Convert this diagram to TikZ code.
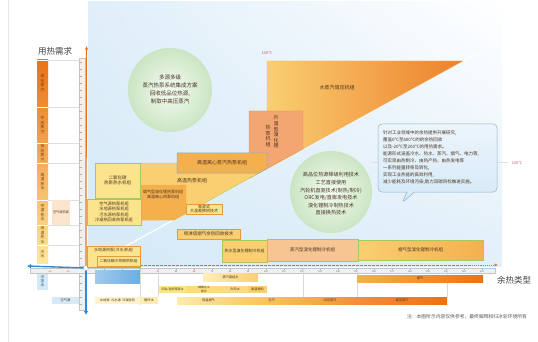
\documentclass[tikz,border=0pt]{standalone}
\usepackage{fontspec}
\newfontfamily\cjk{Noto Sans CJK SC}
\usepackage{xcolor}
\usepackage{tikz}
\usetikzlibrary{positioning,calc,shapes.callouts,arrows.meta,shadings}

\definecolor{demandorange}{HTML}{EB7214}
\definecolor{demandyellow}{HTML}{FCE89E}
\definecolor{paleblue}{HTML}{D5E9F7}
\definecolor{axisblue}{HTML}{2C8AD6}
\definecolor{unitgreen}{HTML}{A6C85E}
\definecolor{unityellow}{HTML}{FCE48C}
\definecolor{unitamber}{HTML}{F9CF72}
\definecolor{unitorange}{HTML}{F5B04E}
\definecolor{unitsalmon}{HTML}{F3A671}
\definecolor{unitpeach}{HTML}{F7C592}
\definecolor{edgeorange}{HTML}{E59A3C}
\definecolor{edgeblue}{HTML}{7FAFCB}
\definecolor{labelred}{HTML}{C8505A}
\definecolor{inkbrown}{HTML}{4A3420}
\definecolor{bubbleedge}{HTML}{8DB1CC}
\definecolor{ballin}{HTML}{F5FBF3}
\definecolor{ballout}{HTML}{CBE5C3}

\newcommand{\fs}[2]{\cjk\fontsize{#1}{#2}\selectfont}

\begin{document}
\begin{tikzpicture}[x=1pt, y=-1pt,
    every node/.style={inner sep=0pt, align=center, text=inkbrown},
    unitbox/.style={fill=#1, draw=unitgreen, line width=0.4pt, font=\fs{4.5}{5.5}},
    rowcell/.style={fill=#1, minimum height=7pt, font=\fs{3.2}{3.8}},
    demandtag/.style={font=\fs{3.8}{4.4}, text=demandorange!50!black},
    rulerbar/.style={fill=gray!12, draw=gray!45, line width=0.3pt},
    ticklabel/.style={font=\fs{2.2}{2.4}, text=gray!70!black},
    blueaxis/.style={-{Latex[length=4pt,width=4.5pt]}, line width=1.4pt, draw=axisblue},
    tempmark/.style={font=\fs{3.8}{4.4}, text=labelred}
]
\useasboundingbox (0,0) rectangle (538,342);
\fill[white] (0,0) rectangle (538,342);
\draw[gray!18] (8,0) -- (8,342);

% chart background
\shade[upper left=paleblue!75, lower left=paleblue, upper right=white, lower right=paleblue!70]
  (88,2) rectangle (502,266);
\coordinate (O) at (86,268);
\coordinate (diagEnd) at (476,54);
\draw[white, line width=1.2pt] (O) -- (diagEnd);

% demand column
\node[font=\fs{8.5}{9}, text=black!75] (demandTitle) at (55,51) {用热需求};
\shade[top color=demandorange, bottom color=demandyellow] (37,60) rectangle (48,263);
\fill[paleblue] (37,272) rectangle (48,290);
\foreach \y in {60,107,143,163,200,225,245} {
  \draw[white, line width=0.6pt] (37,\y) -- (48,\y);
  \draw[gray!25, line width=0.3pt] (48,\y) -- (79,\y);
}
\node[demandtag] (hpSteam)  at (42.5,83)  {高\\压\\蒸\\汽};
\node[demandtag] (mpSteam)  at (42.5,125) {中\\压\\蒸\\汽};
\node[demandtag] (lpSteam)  at (42.5,153) {低\\压\\蒸\\汽};
\node[demandtag] (hotWater) at (42.5,181.5) {高\\温\\热\\水};
\node[demandtag] (midWater) at (42.5,212.5) {中\\温\\热\\水};
\node[demandtag] (lowWater) at (42.5,235) {低\\温\\热\\水};
\node[demandtag] (coldWater) at (42.5,254) {冷\\水};
\node[demandtag, text=axisblue!60!black] (chillWater) at (42.5,281) {冷\\冻\\水};
\node[rowcell=unitpeach!45, minimum width=18pt, minimum height=25pt] (airTag) at (61,212.5) {空气源热泵};

% rulers and axes
\draw[rulerbar] (79,58) rectangle (85,266);
\draw[rulerbar] (79,272) rectangle (85,310);
\foreach \y in {62,69,...,262} \draw[gray!60, line width=0.3pt] (79,\y) -- (81.5,\y);
\foreach \y in {276,283,...,306} \draw[gray!60, line width=0.3pt] (79,\y) -- (81.5,\y);
\draw[rulerbar] (30,268.5) rectangle (495,273.5);
\foreach \k in {1,...,22} {
  \draw[gray!60, line width=0.3pt] ({86+18*\k},268.5) -- ++(0,1.5);
  \node[ticklabel] (hx\k) at ({86+18*\k},271.8) {\the\numexpr10*\k\relax};
}
\node[ticklabel] (hxm1) at (68,271.8) {-10};
\node[ticklabel] (hxm2) at (50,271.8) {-20};
\coordinate (yTop) at (86.5,46);
\coordinate (xDots) at (470,265);
\coordinate (xEnd) at (498,265);
\coordinate (xLeft) at (27,266);
\coordinate (yDown) at (86,315);
\draw[demandorange, line width=1pt, -{Latex[length=3.5pt,width=3.5pt]}] (O) -- (yTop);
\draw[demandorange, line width=0.9pt, dash pattern=on 3pt off 1pt] (88,265) -- (xDots);
\draw[demandorange, line width=0.9pt, densely dotted, -{Latex[length=3.5pt,width=3.5pt]}] (xDots) -- (xEnd);
\draw[blueaxis] (O) -- (xLeft);
\draw[blueaxis] (O) -- (yDown);
\node[circle, draw=gray!60, fill=white, line width=0.4pt, minimum size=5pt] (origin) at (O) {};
\node[font=\fs{8.5}{9}, text=black!75] (sourceTitle) at (514,280) {余热类型};

% upper-left: heat pumps
\shade[left color=unitamber, right color=demandorange!90, draw=edgeorange!70, line width=0.3pt]
  (267,61) -- (463,61) -- (267,168.7) -- cycle;
\node[font=\fs{5}{6}] (mvr) at (337,88) {水蒸汽增压机组};
\filldraw[fill=unitsalmon, draw=edgeorange, line width=0.4pt]
  (249,111) -- (303,111) -- (303,148.9) -- (249,178.6) -- cycle;
\node[font=\fs{5}{5.6}] (liTempCol) at (276,132) {升\\温\\型\\溴\\化\\锂};
\node[font=\fs{5}{5.6}] (liPumpCol) at (268,136) {热\\泵\\机\\组};
\filldraw[fill=unitamber, draw=unitgreen, line width=0.4pt]
  (140,163) -- (177,163) -- (177,173) -- (259,173) -- (174,220) -- (140,220) -- cycle;
\node[font=\fs{5}{6}] (hthp) at (192,181) {高温热泵机组};
\filldraw[fill=unitorange, draw=unitorange, line width=0.4pt]
  (140,185) -- (186,185) -- (186,213.2) -- (174,220) -- (140,220) -- cycle;
\node[font=\fs{4}{5}] (flueHp) at (163,194) {烟气型溴化锂热泵机组\\高温离心热泵机组};
\filldraw[fill=unitorange, draw=edgeblue, line width=0.5pt]
  (177,153) -- (267,153) -- (267,168.7) -- (259,173) -- (177,173) -- cycle;
\node[font=\fs{5}{6}] (steamHp) at (222,163) {高温离心蒸汽热泵机组};
\node[unitbox=unityellow, minimum width=45pt, minimum height=35pt] (co2Hot) at (117.5,180.5) {二氧化碳\\热泵热水机组};
\node[unitbox=unityellow, minimum width=54pt, minimum height=26pt, font=\fs{4.2}{5.4}] (srcHp) at (114,212)
  {空气源热泵机组\\水地源热泵机组\\污水源热泵机组\\冷凝热回收热泵机组};
\node[unitbox=unityellow, draw=edgeorange, minimum width=36pt, minimum height=10pt, font=\fs{4}{4.6}] (absorb) at (204,209)
  {吸收式\\大温差换热技术};

% lower-right: heat driven
\node[unitbox=unitamber, draw=edgeorange, minimum width=63pt, minimum height=10pt] (spray) at (208.5,234) {喷淋塔烟气余热回收技术};
\node[unitbox=unitamber, minimum width=45pt, minimum height=22pt, font=\fs{4}{5}] (hotLiBr) at (244.5,251) {热水型溴化锂制冷机组};
\node[unitbox=unitpeach, minimum width=91pt, minimum height=22pt] (steamLiBr) at (312.5,250) {蒸汽型溴化锂制冷机组};
\node[unitbox=unitamber, left color=unitamber, right color=unitorange, minimum width=125pt, minimum height=20pt] (flueLiBr) at (420.5,250) {烟气型溴化锂制冷机组};
\node[unitbox=unityellow, draw=edgeorange, minimum width=53pt, minimum height=21pt, font=\fs{4}{5}, text depth=13pt] (wshpCold) at (113.5,256.5) {水地源热泵(冷水)机组};
\node[unitbox=unityellow, draw=edgeorange, minimum width=43pt, minimum height=10pt, font=\fs{3.8}{4.4}] (co2Cool) at (118.5,261) {二氧化碳冷热联供机组};

% circles and note
\shade[inner color=ballin, outer color=ballout] (170,90) circle (42pt);
\node[font=\fs{5.5}{8}] (multiSrc) at (170,89) {多源多级\\蒸汽热泵系统集成方案\\回收低品位热源,\\制取中高压蒸汽};
\shade[inner color=ballin, outer color=ballout] (331,192) circle (41pt);
\node[font=\fs{5.1}{7.6}] (cascade) at (331,194)
  {高品位热源梯级利用技术\\工艺直接使用\\汽轮机直驱技术(制热/制冷)\\ORC发电/直膨发电技术\\溴化锂制冷制热技术\\直接换热技术};
\draw[gray!25, line width=0.4pt] (372,162) -- (508,162);
\node[tempmark] (t100top) at (267,53) {100℃};
\node[tempmark] (t100right) at (517,163) {100℃};
\node[rectangle callout, callout absolute pointer={(402,203)}, rounded corners=4pt,
      top color=paleblue!45, bottom color=paleblue, draw=bubbleedge, line width=0.5pt,
      minimum width=119pt, minimum height=68pt, text width=109pt, align=left,
      font=\fs{4.5}{7}] (note) at (437.5,158)
  {针对工业领域中的余热提供开展研究,\\覆盖0℃至600℃的的余热回收\\以及-20℃至200℃的用热需求。\\
   能源形式涵盖冷水、热水、蒸汽、烟气、电力等,\\可实现由热制冷、由热产热、由热发电等\\
   一系列能量转移及转化,\\实现工业热能的高效利用,\\减少能耗及环境污染,助力双碳目标推进实施。};

% waste heat rows
\fill[left color=axisblue!45, right color=axisblue!70] (95,270) rectangle (140,283);
\foreach \x/\y in {140/305,158/297,303/297,357/297,447/297}
  \draw[gray!30, line width=0.3pt] (\x,270) -- (\x,\y);
\node[rowcell=unityellow, left color=unityellow!60, right color=unitamber, minimum width=55pt, minimum height=8pt] (condensate) at (230.5,277.5) {蒸汽凝结水};
\node[rowcell=unitorange, left color=unitorange, right color=demandorange, minimum width=126pt] (flueGas) at (420,278.5) {烟气};
\node[rowcell=unityellow, minimum width=27pt, font=\fs{3}{3.4}] (dyeing) at (172.5,289.5) {印染/造纸等废水};
\node[rowcell=unityellow!90!orange, minimum width=36pt, font=\fs{2.8}{3.2}] (chemical) at (204,289.5) {精细化工\\废水};
\node[rowcell=unitamber!80, minimum width=26pt] (coolWater) at (235,289.5) {冷却水};
\node[rowcell=unitamber, minimum width=19pt] (hotMaterial) at (257.5,289.5) {高温物料};
\node[rowcell=paleblue, minimum width=27pt] (airSrc) at (65.5,300.5) {空气源};
\node[rowcell=unityellow!45, minimum width=45pt] (waterSrc) at (117.5,300.5) {水地源\enspace 污水源\enspace 冷凝余热};
\node[rowcell=unityellow!70, minimum width=18pt] (circWater) at (149,300.5) {循环水};
\node[rowcell=unityellow, left color=unityellow!70, right color=unitamber, minimum width=63pt] (lowFlue) at (208.5,300.5) {低温烟气};
\node[rowcell=unitamber, left color=unitamber, right color=unitorange, minimum width=63pt] (exhaust) at (271.5,300.5) {乏汽};
\node[rowcell=unitorange, left color=unitorange, right color=demandorange!80, minimum width=54pt] (mpSource) at (330,300.5) {中压蒸汽};
\node[rowcell=demandorange, left color=demandorange!80, right color=demandorange, minimum width=90pt] (hpSource) at (402,300.5) {高压蒸汽};

\node[font=\fs{4.8}{5.5}, text=gray!70!black] (remark) at (467,317) {注：本图所示内容仅供参考，最终解释权归冰轮环境所有};
\end{tikzpicture}
\end{document}
